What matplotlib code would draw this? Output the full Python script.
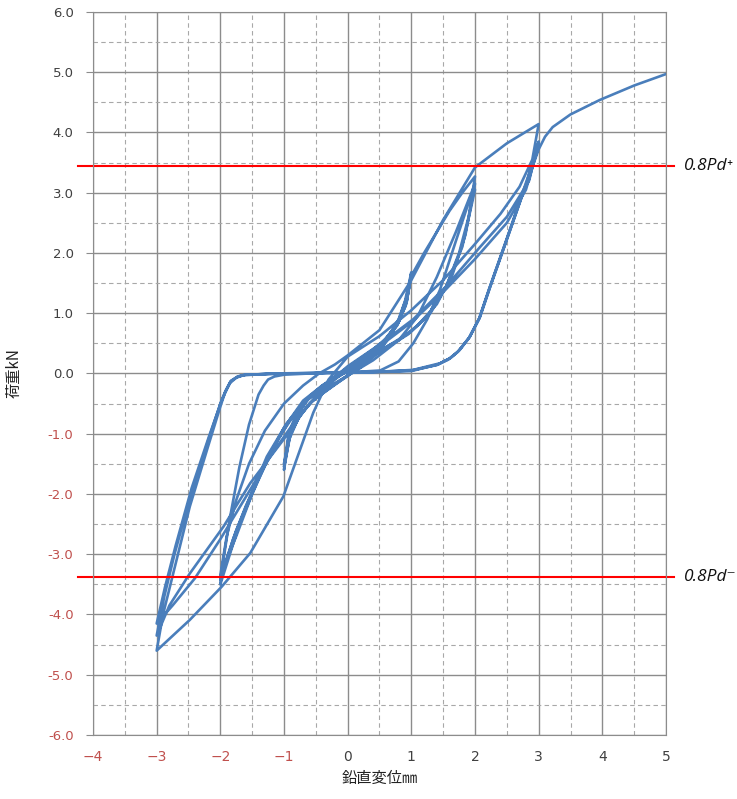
import matplotlib
matplotlib.use("Agg")
from matplotlib import pyplot as plt
from matplotlib.ticker import MultipleLocator, FuncFormatter

# load-displacement history (displacement mm, load kN)
init_x = [0.0, 0.2, 0.4, 0.6, 0.8, 0.9, 1.0]
init_y = [0.0, 0.12, 0.3, 0.55, 0.9, 1.2, 1.68]

# +-1 mm cycles
loop1a_x = [1.0, 0.93, 0.8, 0.6, 0.4, 0.2, 0.0, -0.2, -0.4, -0.6, -0.8, -0.93, -1.0,
            -0.92, -0.78, -0.6, -0.4, -0.2, 0.0, 0.2, 0.4, 0.6, 0.8, 0.92, 1.0]
loop1a_y = [1.68, 1.2, 0.85, 0.58, 0.4, 0.25, 0.1, -0.05, -0.2, -0.38, -0.65, -1.0, -1.6,
            -1.1, -0.75, -0.5, -0.33, -0.18, -0.04, 0.1, 0.28, 0.52, 0.85, 1.2, 1.65]
loop1b_x = [1.0, 0.92, 0.78, 0.6, 0.4, 0.2, 0.0, -0.2, -0.4, -0.6, -0.8, -0.92, -1.0,
            -0.9, -0.75, -0.55, -0.35, -0.15, 0.05, 0.25, 0.45, 0.65, 0.82, 0.93, 1.0]
loop1b_y = [1.65, 1.15, 0.8, 0.55, 0.38, 0.22, 0.08, -0.07, -0.22, -0.4, -0.7, -1.05, -1.55,
            -1.02, -0.7, -0.45, -0.3, -0.15, 0.0, 0.15, 0.35, 0.6, 0.9, 1.22, 1.62]
loop1c_x = [1.0, 0.9, 0.75, 0.55, 0.35, 0.15, -0.05, -0.25, -0.45, -0.65, -0.82, -0.93, -1.0,
            -0.9, -0.76, -0.58, -0.38, -0.18, 0.02, 0.22, 0.42, 0.62, 0.8, 0.92, 1.0, 1.2, 1.4, 1.6, 1.8, 2.0]
loop1c_y = [1.62, 1.1, 0.78, 0.52, 0.35, 0.2, 0.05, -0.1, -0.25, -0.45, -0.75, -1.08, -1.5,
            -1.0, -0.72, -0.48, -0.32, -0.16, -0.02, 0.12, 0.3, 0.55, 0.88, 1.25, 1.62, 2.0, 2.35, 2.7, 3.0, 3.27]

# +-2 mm cycles
loop2a_x = [2.0, 1.9, 1.75, 1.55, 1.3, 1.0, 0.7, 0.4, 0.1, -0.2, -0.5, -0.8, -1.1, -1.4, -1.7, -2.0,
            -1.98, -1.75, -1.53, -1.27, -0.96, -0.64, -0.12, 0.4, 0.8, 1.1, 1.4, 1.7, 2.0]
loop2a_y = [3.27, 2.6, 2.0, 1.45, 1.0, 0.7, 0.5, 0.32, 0.12, -0.08, -0.3, -0.62, -1.1, -1.75, -2.5, -3.5,
            -3.32, -2.6, -2.04, -1.38, -0.83, -0.44, -0.11, 0.22, 0.55, 0.95, 1.6, 2.35, 3.15]
loop2b_x = [2.0, 1.85, 1.65, 1.4, 1.1, 0.8, 0.5, 0.2, -0.1, -0.4, -0.7, -1.0, -1.3, -1.6, -1.8, -2.0,
            -1.85, -1.7, -1.55, -1.4, -1.32, -1.25, -1.15, -1.0, -0.6, -0.2, 0.2, 0.51, 0.8, 1.03, 1.25, 1.45,
            1.7, 1.92, 2.0]
loop2b_y = [3.15, 2.3, 1.65, 1.15, 0.8, 0.55, 0.38, 0.18, -0.02, -0.2, -0.45, -0.9, -1.5, -2.2, -2.75, -3.42,
            -2.4, -1.55, -0.85, -0.35, -0.2, -0.1, -0.05, -0.02, 0.0, 0.02, 0.03, 0.05, 0.2, 0.5, 0.9, 1.39,
            2.2, 2.9, 3.05]
loop2c_x = [2.0, 1.8, 1.55, 1.25, 0.95, 0.6, 0.3, 0.0, -0.3, -0.6, -0.9, -1.2, -1.5, -1.75, -2.0,
            -1.9, -1.75, -1.55, -1.3, -1.0, -0.7, -0.45, -0.2, 0.0, 0.5, 1.0, 1.5, 2.0, 2.5, 3.0]
loop2c_y = [3.05, 2.1, 1.45, 0.95, 0.65, 0.42, 0.22, 0.04, -0.15, -0.38, -0.75, -1.3, -2.0, -2.7, -3.35,
            -2.7, -2.1, -1.5, -0.95, -0.5, -0.2, 0.0, 0.15, 0.3, 0.72, 1.55, 2.55, 3.42, 3.82, 4.14]

# +-3 mm cycles
loop3a_x = [3.0, 2.9, 2.7, 2.4, 2.0, 1.5, 1.0, 0.5, 0.0, -0.3, -0.54, -0.75, -1.01, -1.53, -1.98, -2.48, -3.0,
            -2.9, -2.74, -2.48, -2.21, -2.0, -1.93, -1.85, -1.75, -1.64, -1.2, -0.5, 0.0, 0.5, 1.03, 1.45,
            1.62, 1.76, 1.92, 2.08, 2.24, 2.5, 2.81, 3.0]
loop3a_y = [4.14, 3.55, 3.1, 2.65, 2.15, 1.55, 1.05, 0.62, 0.28, -0.1, -0.65, -1.27, -2.04, -2.98, -3.54, -4.09, -4.6,
            -4.0, -3.32, -2.21, -1.27, -0.55, -0.33, -0.16, -0.07, -0.03, 0.0, 0.01, 0.02, 0.03, 0.06, 0.17,
            0.26, 0.39, 0.61, 0.94, 1.44, 2.22, 3.16, 3.85]
loop3b_x = [3.0, 2.85, 2.5, 2.08, 1.55, 1.03, 0.5, 0.0, -0.3, -0.64, -1.01, -1.53, -1.95, -2.48, -2.8, -3.0,
            -2.88, -2.72, -2.46, -2.2, -2.0, -1.92, -1.84, -1.73, -1.62, -1.0, -0.3, 0.3, 1.0, 1.4, 1.58,
            1.72, 1.9, 2.06, 2.22, 2.48, 2.78, 3.0]
loop3b_y = [3.85, 3.2, 2.6, 2.1, 1.45, 0.9, 0.48, 0.12, -0.15, -0.55, -1.1, -1.82, -2.54, -3.32, -3.85, -4.35,
            -3.7, -3.0, -2.0, -1.15, -0.5, -0.29, -0.13, -0.05, -0.02, 0.0, 0.01, 0.02, 0.05, 0.14, 0.23,
            0.35, 0.58, 0.9, 1.4, 2.18, 3.1, 3.78]
loop3c_x = [3.0, 2.8, 2.5, 2.0, 1.5, 1.0, 0.5, 0.0, -0.4, -0.8, -1.2, -1.6, -2.0, -2.4, -2.75, -3.0,
            -2.87, -2.7, -2.45, -2.18, -1.98, -1.9, -1.83, -1.72, -1.6, -1.0, 0.0, 1.0, 1.42, 1.6, 1.74,
            1.91, 2.07, 2.23, 2.49, 2.8, 3.0]
loop3c_y = [3.78, 3.05, 2.5, 1.9, 1.35, 0.85, 0.45, 0.08, -0.28, -0.75, -1.35, -2.05, -2.75, -3.4, -3.85, -4.15,
            -3.55, -2.85, -1.9, -1.05, -0.45, -0.26, -0.12, -0.05, -0.02, 0.0, 0.01, 0.04, 0.15, 0.25, 0.37,
            0.6, 0.92, 1.42, 2.2, 3.13, 3.72]

# final push
final_x = [3.0, 3.1, 3.22, 3.5, 3.96, 4.5, 5.0]
final_y = [3.72, 3.93, 4.09, 4.3, 4.54, 4.78, 4.97]

pd_plus = 3.44
pd_minus = -3.38

xs = init_x + loop1a_x + loop1b_x + loop1c_x + loop2a_x + loop2b_x + loop2c_x \
    + loop3a_x + loop3b_x + loop3c_x + final_x
ys = init_y + loop1a_y + loop1b_y + loop1c_y + loop2a_y + loop2b_y + loop2c_y \
    + loop3a_y + loop3b_y + loop3c_y + final_y

neg_col = '#c0504d'
pos_col = '#404040'
cjk = ['Noto Sans CJK JP', 'DejaVu Sans']

fig = plt.figure(figsize=(7.37, 7.99), dpi=100)
ax = fig.add_axes([93/737, 1 - 735/799, 573/737, 723/799])

ax.set_xlim(-4, 5)
ax.set_ylim(-6, 6)
ax.xaxis.set_major_locator(MultipleLocator(1))
ax.yaxis.set_major_locator(MultipleLocator(1))
ax.xaxis.set_minor_locator(MultipleLocator(0.5))
ax.yaxis.set_minor_locator(MultipleLocator(0.5))
ax.grid(which='major', color='#8c8c8c', lw=1.0)
ax.grid(which='minor', color='#a8a8a8', lw=0.8, ls=(0, (4, 3)))
ax.set_axisbelow(True)
for s in ax.spines.values():
    s.set_color('#8c8c8c')

ax.xaxis.set_major_formatter(FuncFormatter(lambda v, p: '{:d}'.format(int(round(v))).replace('-', '\u2212')))
ax.yaxis.set_major_formatter(FuncFormatter(lambda v, p: '{:.1f}'.format(v)))
ax.tick_params(axis='x', which='both', length=0, pad=11, labelsize=10)
ax.tick_params(axis='y', which='major', length=5, color='#8c8c8c', pad=9, labelsize=9.5)
ax.tick_params(axis='y', which='minor', length=0)
fig.canvas.draw()
for lab in ax.get_xticklabels():
    lab.set_color(neg_col if '\u2212' in lab.get_text() else pos_col)
for lab in ax.get_yticklabels():
    lab.set_color(neg_col if lab.get_text().startswith('-') else pos_col)

ax.plot(xs, ys, color='#4a7ebb', lw=1.9, solid_joinstyle='round')

# design load lines
tr = ax.get_yaxis_transform()
for yv, lab in [(pd_plus, '0.8Pd\u207a'), (pd_minus, '0.8Pd\u207b')]:
    ax.plot([-0.026, 1.014], [yv, yv], color='red', lw=1.5, transform=tr, clip_on=False)
    ax.text(1.031, yv, lab, transform=tr, ha='left', va='center', fontsize=12.5,
            style='italic', family=['Open Sans', 'DejaVu Sans'], color='#111111')

ax.set_xlabel('鉛直変位㎜', family=cjk, fontsize=11, color='#222222', labelpad=4)
ax.set_ylabel('荷重kN', family=cjk, fontsize=11, color='#222222', labelpad=18)

fig.savefig('out.png', dpi=100)
